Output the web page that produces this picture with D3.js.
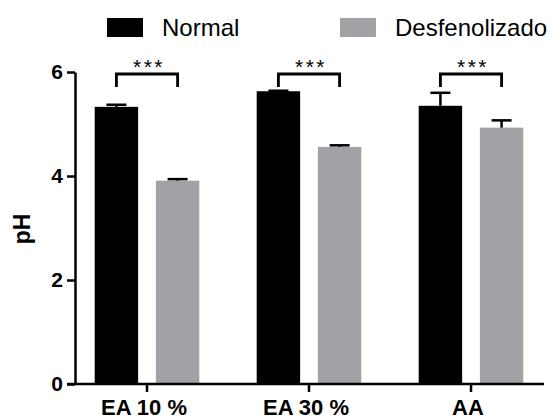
<!DOCTYPE html>
<html>
<head>
<meta charset="utf-8">
<script src="https://cdn.jsdelivr.net/npm/d3@7"></script>
<style>
  body{margin:0;background:#fff}
  text{font-family:Arial,"Liberation Sans",Helvetica,sans-serif}
</style>
</head>
<body>
<script>
var categories=["EA 10 %","EA 30 %","AA"]
var series=["Normal","Desfenolizado"]
var normalMean=[5.33,5.63,5.35]
var normalErr=[0.04,0.01,0.25]
var desfMean=[3.91,4.56,4.93]
var desfErr=[0.03,0.03,0.14]
var significance=["***","***","***"]
var yTicks=[0,2,4,6]

var screen={width:554,height:419}
var colors={Normal:"#000000",Desfenolizado:"#a2a1a6"}

var rows=categories.map(function(c,i){
  return {
    cat:c,
    values:[
      {key:"Normal",mean:normalMean[i],err:normalErr[i]},
      {key:"Desfenolizado",mean:desfMean[i],err:desfErr[i]}
    ],
    sig:significance[i]
  }
})

var xScale=d3.scaleBand()
   .domain(categories)
   .range([66,552])
var xSub=d3.scaleBand()
   .domain(series)
   .range([-52.3,52.3])
   .paddingInner(0.29)
var yScale=d3.scaleLinear()
   .domain([0,6])
   .range([384,72])

var svg=d3.select("body").append("svg")
          .attr("width",screen.width)
          .attr("height",screen.height)

var cx=function(cat,key){return xScale(cat)+xScale.bandwidth()/2+xSub(key)+xSub.bandwidth()/2}

//bars
var groups=svg.append("g").selectAll("g")
   .data(rows)
   .enter()
   .append("g")
groups.selectAll("rect")
   .data(function(d){return d.values.map(function(v){return {cat:d.cat,key:v.key,mean:v.mean,err:v.err}})})
   .enter()
   .append("rect")
   .attr("x",function(d){return xScale(d.cat)+xScale.bandwidth()/2+xSub(d.key)})
   .attr("width",xSub.bandwidth())
   .attr("y",function(d){return yScale(d.mean)})
   .attr("height",function(d){return yScale(0)-yScale(d.mean)})
   .attr("fill",function(d){return colors[d.key]})

//error bars (upper only)
var err=groups.selectAll("g.err")
   .data(function(d){return d.values.map(function(v){return {cat:d.cat,key:v.key,mean:v.mean,err:v.err}})})
   .enter()
   .append("g")
   .classed("err",true)
err.append("line")
   .attr("x1",function(d){return cx(d.cat,d.key)})
   .attr("x2",function(d){return cx(d.cat,d.key)})
   .attr("y1",function(d){return yScale(d.mean)})
   .attr("y2",function(d){return yScale(d.mean+d.err)})
   .attr("stroke","#000")
   .attr("stroke-width",2.5)
err.append("line")
   .attr("x1",function(d){return cx(d.cat,d.key)-10})
   .attr("x2",function(d){return cx(d.cat,d.key)+10})
   .attr("y1",function(d){return yScale(d.mean+d.err)})
   .attr("y2",function(d){return yScale(d.mean+d.err)})
   .attr("stroke","#000")
   .attr("stroke-width",2.5)

//significance brackets
var brackets=svg.append("g").selectAll("g")
   .data(rows)
   .enter()
   .append("g")
brackets.append("path")
   .attr("d",function(d){
     var x1=cx(d.cat,"Normal"),x2=cx(d.cat,"Desfenolizado")
     return "M"+x1+",87V74H"+x2+"V87"})
   .attr("fill","none")
   .attr("stroke","#000")
   .attr("stroke-width",2.8)
brackets.append("text")
   .attr("x",function(d){return xScale(d.cat)+xScale.bandwidth()/2+2})
   .attr("y",74)
   .attr("text-anchor","middle")
   .attr("font-size",21)
   .attr("letter-spacing",2.5)
   .text(function(d){return d.sig})

//axis
var yAxis=d3.axisLeft(yScale)
   .tickValues(yTicks)
   .tickFormat(d3.format("d"))
   .tickSize(8)
   .tickSizeOuter(0)
   .tickPadding(4)
var gy=svg.append("g")
   .attr("id","yAxis")
   .attr("transform","translate(75,0)")
   .call(yAxis)
gy.selectAll("line").attr("stroke-width",2.5)
gy.select(".domain").attr("stroke-width",2.5)
gy.selectAll("text")
   .attr("font-size",21)
   .attr("font-weight","bold")
   .attr("fill","#000")
   .attr("font-family","Arial, 'Liberation Sans', sans-serif")

var xAxis=d3.axisBottom(xScale)
   .tickSize(8)
   .tickPadding(7)
var gx=svg.append("g")
   .attr("id","xAxis")
   .attr("transform","translate(0,384)")
   .call(xAxis)
gx.select(".domain").remove()
gx.append("line")
   .attr("x1",67)
   .attr("x2",544)
   .attr("stroke","#000")
   .attr("stroke-width",2.5)
gx.selectAll(".tick line").attr("stroke-width",2.5)
gx.selectAll("text")
   .attr("font-size",22)
   .attr("font-weight","bold")
   .attr("fill","#000")
   .attr("dx",-3)
   .attr("font-family","Arial, 'Liberation Sans', sans-serif")

svg.append("text")
   .attr("transform","translate(30,229) rotate(-90)")
   .attr("text-anchor","middle")
   .attr("font-size",23)
   .attr("font-weight","bold")
   .text("pH")

//legend
var legendX=[107,340]
var legend=svg.append("g").selectAll("g")
   .data(series)
   .enter()
   .append("g")
   .attr("transform",function(d,i){return "translate("+legendX[i]+",18)"})
legend.append("rect")
   .attr("width",36)
   .attr("height",19)
   .attr("fill",function(d){return colors[d]})
legend.append("text")
   .attr("x",55)
   .attr("y",18)
   .attr("font-size",24)
   .text(function(d){return d})
</script>
</body>
</html>
